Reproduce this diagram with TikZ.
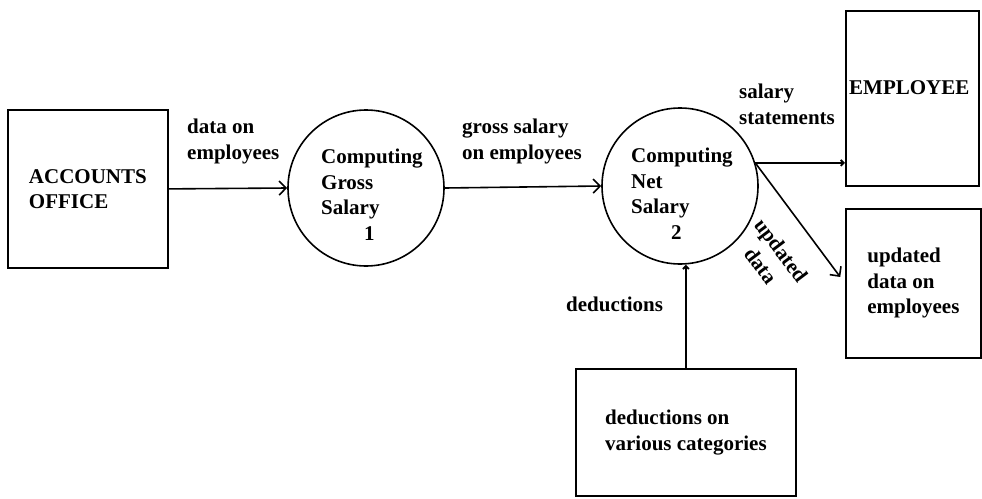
\documentclass[tikz,border=0pt]{standalone}
\usepackage{fontspec}
\setmainfont{Liberation Serif}
\usetikzlibrary{arrows.meta}
\begin{document}
\begin{tikzpicture}[x=1pt,y=-1pt,
  every node/.style={font=\bfseries\fontsize{21}{25.5}\selectfont, inner sep=0pt},
  boxnode/.style={draw, line width=1.8pt, anchor=north west, align=left},
  procnode/.style={draw, circle, line width=1.6pt, minimum size=156pt},
  lbl/.style={anchor=north west, align=left},
  flow/.style={line width=1.6pt, -{Straight Barb[length=7pt,width=14pt,line width=1.6pt]}},
  smallflow/.style={line width=1.6pt, -{Straight Barb[length=3pt,width=6pt,line width=1.8pt]}}]
\useasboundingbox (0,0) rectangle (982,498);
% external entities / stores
\node[boxnode, minimum width=160pt, minimum height=158pt] (acc) at (7,109) {ACCOUNTS\\OFFICE};
\node[boxnode, minimum width=133pt, minimum height=175pt] (emp) at (845,10) {};
\node[lbl, anchor=west] (empt) at (849,88) {EMPLOYEE};
\node[boxnode, minimum width=135pt, minimum height=149pt] (upd) at (845,208) {updated\\data on\\employees};
\node[boxnode, minimum width=220pt, minimum height=127pt] (ded) at (575,368) {deductions on\\various categories};
% processes
\node[procnode] (c1) at (366,188) {};
\node[procnode] (c2) at (680,186) {};
\node[lbl] (c1t) at (321,149) {Computing\\Gross\\Salary\\\hspace*{43pt}1};
\node[lbl] (c2t) at (631,148) {Computing\\Net\\Salary\\\hspace*{40pt}2};
% flows
\draw[flow] (acc.east) -- (c1.west);
\draw[flow] (c1.east) -- (c2.west);
\draw[smallflow] (c2.17) -- (emp.west |- c2.17);
\draw[flow, shorten >=8pt] (c2.17) -- (upd.west);
\draw[smallflow] (ded.north) -- (ded.north |- c2.south);
% flow labels
\node[lbl] (l1) at (187,119) {data on\\employees};
\node[lbl] (l2) at (462,119) {gross salary\\on employees};
\node[lbl] (l3) at (739,84) {salary\\statements};
\node[lbl, anchor=base west] (l4) at (566,311) {deductions};
\node[align=center, rotate=-53] (l5) at (771,258) {updated\\data};
\end{tikzpicture}
\end{document}
